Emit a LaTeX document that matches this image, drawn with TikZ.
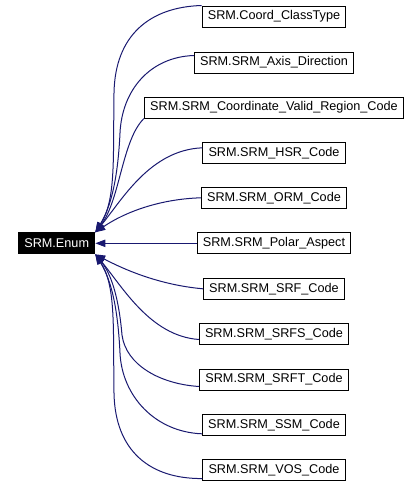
\documentclass[tikz,border=0pt]{standalone}
\usepackage{fontspec}
\setmainfont{Liberation Sans}
\usetikzlibrary{arrows.meta}
\definecolor{edgeblue}{RGB}{25,25,112}

\begin{document}
\begin{tikzpicture}[x=0.75pt,y=-0.75pt]
		\tikzset{
			box/.style ={
				rectangle, %矩形节点
				minimum height =15.75pt, %最小高度
				inner xsep=4.3pt, %文字和边框的距离
				inner ysep=0pt,
				draw=black, %边框颜色
				line width=0.75pt,
				fill=white,
				font=\fontsize{9.5pt}{11pt}\selectfont
			},
			root/.style ={box, fill=black, text=white}, %黑底白字
			edge/.style ={draw=edgeblue, line width=0.75pt, -{Triangle[length=7.5pt,width=5.5pt]}}
		}
		\useasboundingbox (0,0) rectangle (420,487);
		\node[root] (0) at(56.7,243.3){SRM.Enum};
		\node[box] (1) at(274,16.5){SRM.Coord\_ClassType};
		\node[box] (2) at(274,62.5){SRM.SRM\_Axis\_Direction};
		\node[box] (3) at(274,107.5){SRM.SRM\_Coordinate\_Valid\_Region\_Code};
		\node[box] (4) at(274,152.8){SRM.SRM\_HSR\_Code};
		\node[box] (5) at(274,197.8){SRM.SRM\_ORM\_Code};
		\node[box] (6) at(274,243.3){SRM.SRM\_Polar\_Aspect};
		\node[box] (7) at(274,288.8){SRM.SRM\_SRF\_Code};
		\node[box] (8) at(274,333.8){SRM.SRM\_SRFS\_Code};
		\node[box] (9) at(274,379.5){SRM.SRM\_SRFT\_Code};
		\node[box] (10) at(274,424.8){SRM.SRM\_SSM\_Code};
		\node[box] (11) at(274,470.2){SRM.SRM\_VOS\_Code};
		\draw[edge] (1.north west) .. controls (150,7) and (115,35) .. (114,93) .. controls (113,160) and (116,200) .. (0.north east);
		\draw[edge] ([yshift=-3pt]2.north west) .. controls (150,57) and (122,90) .. (120,133) .. controls (118,175) and (112,205) .. (0.north east);
		\draw[edge] (3.south west) .. controls (122,140) and (120,200) .. (0.north east);
		\draw[edge] ([yshift=-4.5pt]4.north west) .. controls (150,150) and (122,200) .. (0.north east);
		\draw[edge] (5.west) .. controls (160,199) and (125,212) .. (0.north east);
		\draw[edge] (6) -- (0);
		\draw[edge] (7.west) .. controls (160,285) and (125,270) .. (0.south east);
		\draw[edge] ([yshift=4pt]8.south west) .. controls (150,336) and (122,286) .. (0.south east);
		\draw[edge] ([yshift=3pt]9.south west) .. controls (160,384) and (126,365) .. (122,335) .. controls (119,300) and (112,275) .. (0.south east);
		\draw[edge] ([yshift=1.5pt]10.south west) .. controls (155,432) and (122,396) .. (120,353) .. controls (118,311) and (112,281) .. (0.south east);
		\draw[edge] ([yshift=2pt]11.south west) .. controls (150,479) and (115,451) .. (114,393) .. controls (113,326) and (116,286) .. (0.south east);
	\end{tikzpicture}
\end{document}
